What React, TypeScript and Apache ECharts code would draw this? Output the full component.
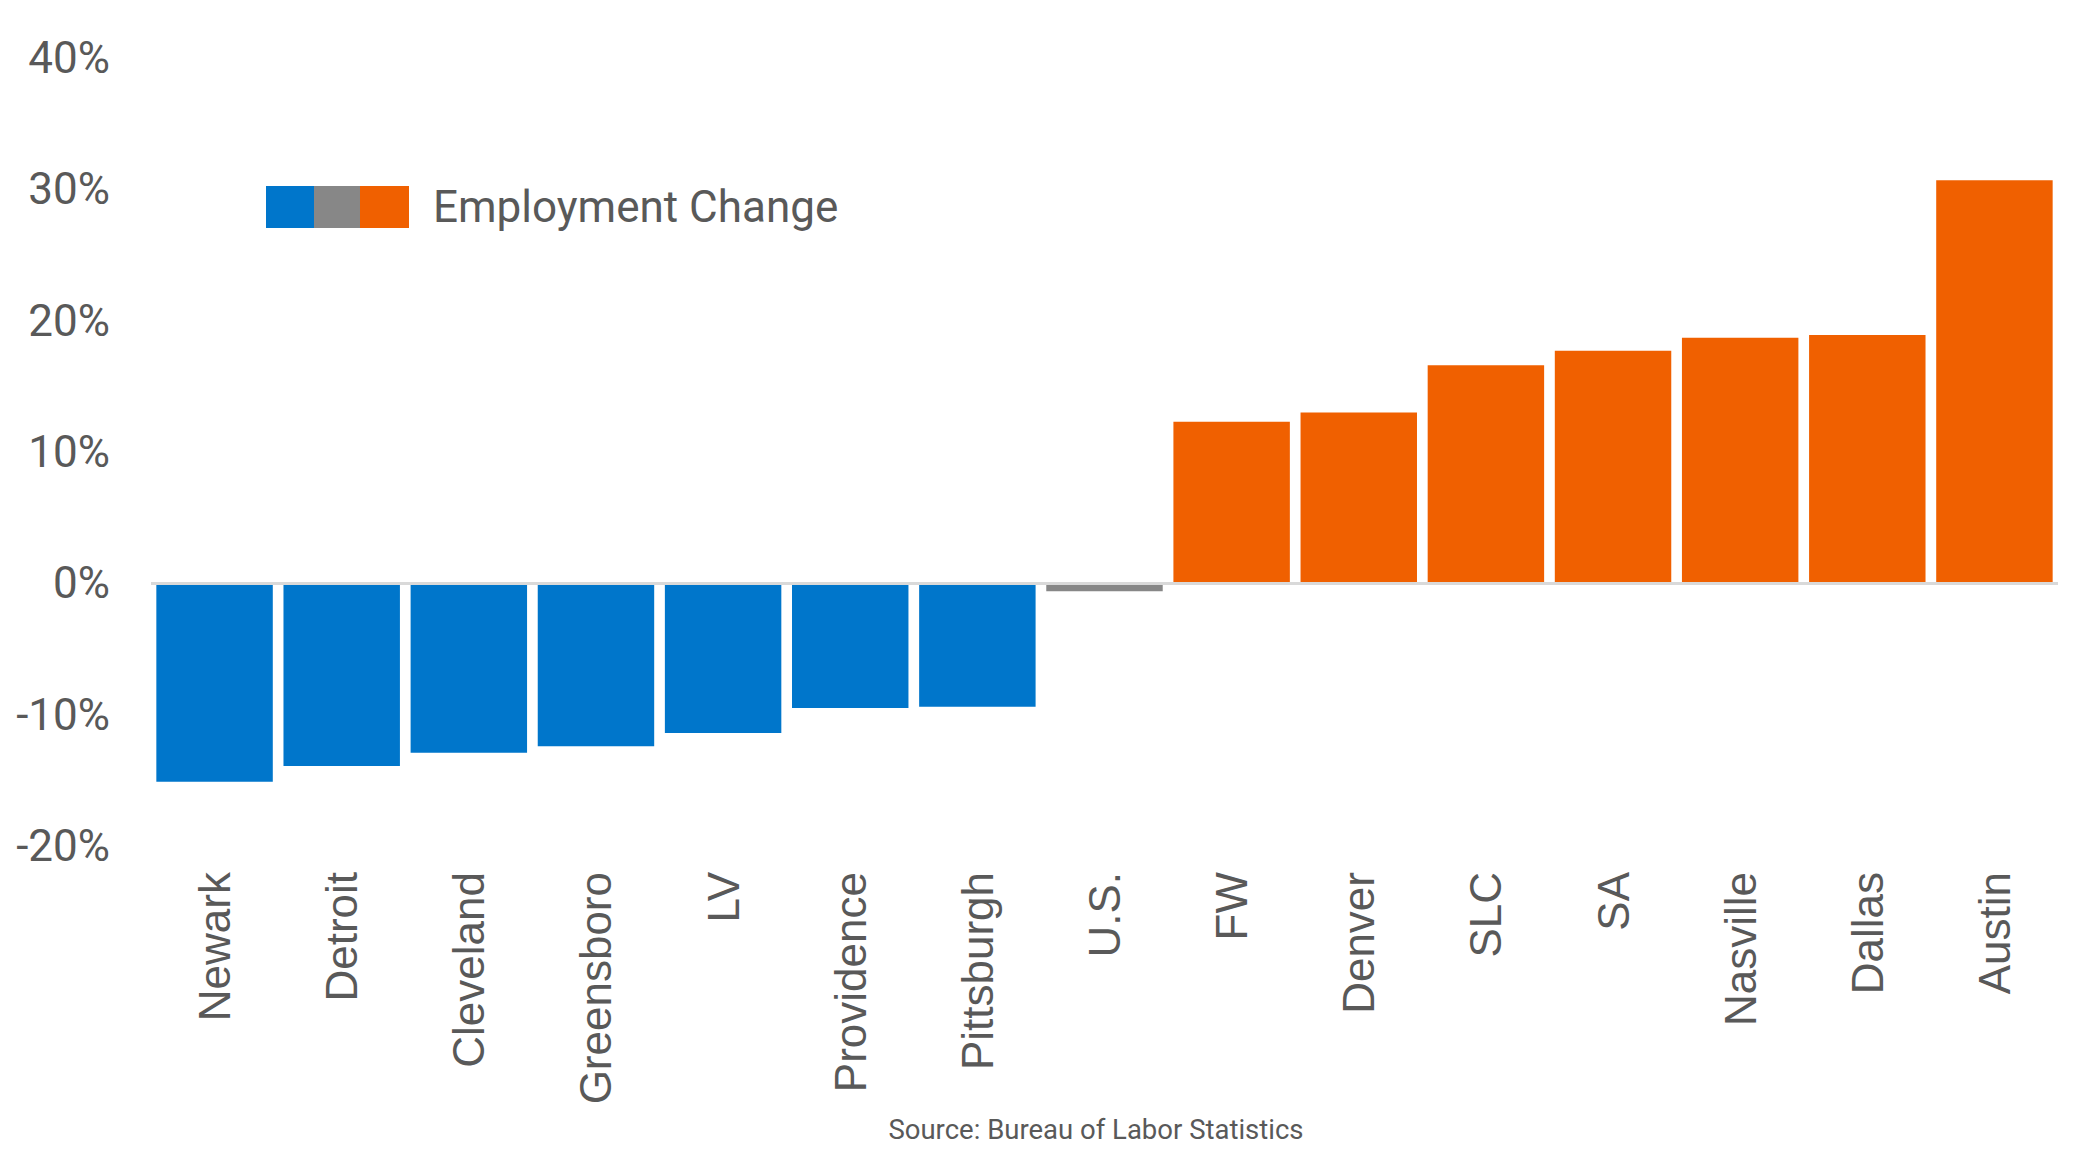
import React, { useEffect, useRef } from "react";
import * as echarts from "echarts";

const categories = [
  "Newark", "Detroit", "Cleveland", "Greensboro", "LV", "Providence", "Pittsburgh",
  "U.S.", "FW", "Denver", "SLC", "SA", "Nasville", "Dallas", "Austin",
];
const changeValues = [
  -15.1, -13.9, -12.9, -12.4, -11.4, -9.5, -9.4,
  -0.6, 12.3, 13.0, 16.6, 17.7, 18.7, 18.9, 30.7,
];
const yTicks = { min: -20, max: 40, interval: 10 };
const seriesName = "Employment Change";
const sourceText = "Source: Bureau of Labor Statistics";

const BLUE = "#0076CB";
const GRAY = "#878787";
const ORANGE = "#F06000";
const TEXT = "#595959";

export default function App() {
  const ref = useRef<HTMLDivElement>(null);

  useEffect(() => {
    document.body.style.margin = "0";
    if (!ref.current) return;
    const chart = echarts.init(ref.current, undefined, { renderer: "svg" });
    chart.setOption({
      animation: false,
      backgroundColor: "#ffffff",
      grid: { left: 151, right: 25, top: 58, bottom: 325, containLabel: false },
      legend: {
        show: true,
        left: 261,
        top: 180,
        itemWidth: 143,
        itemHeight: 42,
        icon: "rect",
        selectedMode: false,
        data: [
          {
            name: seriesName,
            itemStyle: {
              color: new echarts.graphic.LinearGradient(0, 0, 1, 0, [
                { offset: 0, color: BLUE },
                { offset: 0.333, color: BLUE },
                { offset: 0.333, color: GRAY },
                { offset: 0.66, color: GRAY },
                { offset: 0.66, color: ORANGE },
                { offset: 1, color: ORANGE },
              ]),
            },
          },
        ],
        textStyle: {
          fontFamily: "Roboto",
          fontSize: 44,
          color: TEXT,
          padding: [0, 0, 0, 19],
        },
      },
      xAxis: {
        type: "category",
        data: categories,
        position: "bottom",
        axisLine: { show: false, onZero: false },
        axisTick: { show: false },
        axisLabel: {
          rotate: 90,
          margin: 26,
          interval: 0,
          fontFamily: "Liberation Sans",
          fontSize: 44,
          color: TEXT,
        },
      },
      yAxis: {
        type: "value",
        min: yTicks.min,
        max: yTicks.max,
        interval: yTicks.interval,
        axisLine: { show: false },
        axisTick: { show: false },
        splitLine: { show: false },
        axisLabel: {
          formatter: "{value}%",
          margin: 41,
          fontFamily: "Roboto",
          fontSize: 44,
          color: TEXT,
        },
      },
      series: [
        {
          name: seriesName,
          type: "bar",
          data: changeValues,
          barCategoryGap: "8.4%",
          itemStyle: {
            color: (p: any) =>
              p.name === "U.S." ? GRAY : p.value < 0 ? BLUE : ORANGE,
          },
          markLine: {
            silent: true,
            symbol: "none",
            label: { show: false },
            lineStyle: { color: "#D9D9D9", width: 3, type: "solid" },
            data: [{ yAxis: 0 }],
          },
        },
      ],
      graphic: [
        {
          type: "text",
          x: 1096,
          y: 1129,
          style: {
            text: sourceText,
            fontFamily: "Roboto",
            fontSize: 27.5,
            fill: TEXT,
            textAlign: "center",
            textVerticalAlign: "middle",
          },
        },
      ],
    });
    return () => chart.dispose();
  }, []);

  return (
    <div
      ref={ref}
      style={{ position: "absolute", left: 0, top: 0, width: 2083, height: 1171 }}
    />
  );
}
